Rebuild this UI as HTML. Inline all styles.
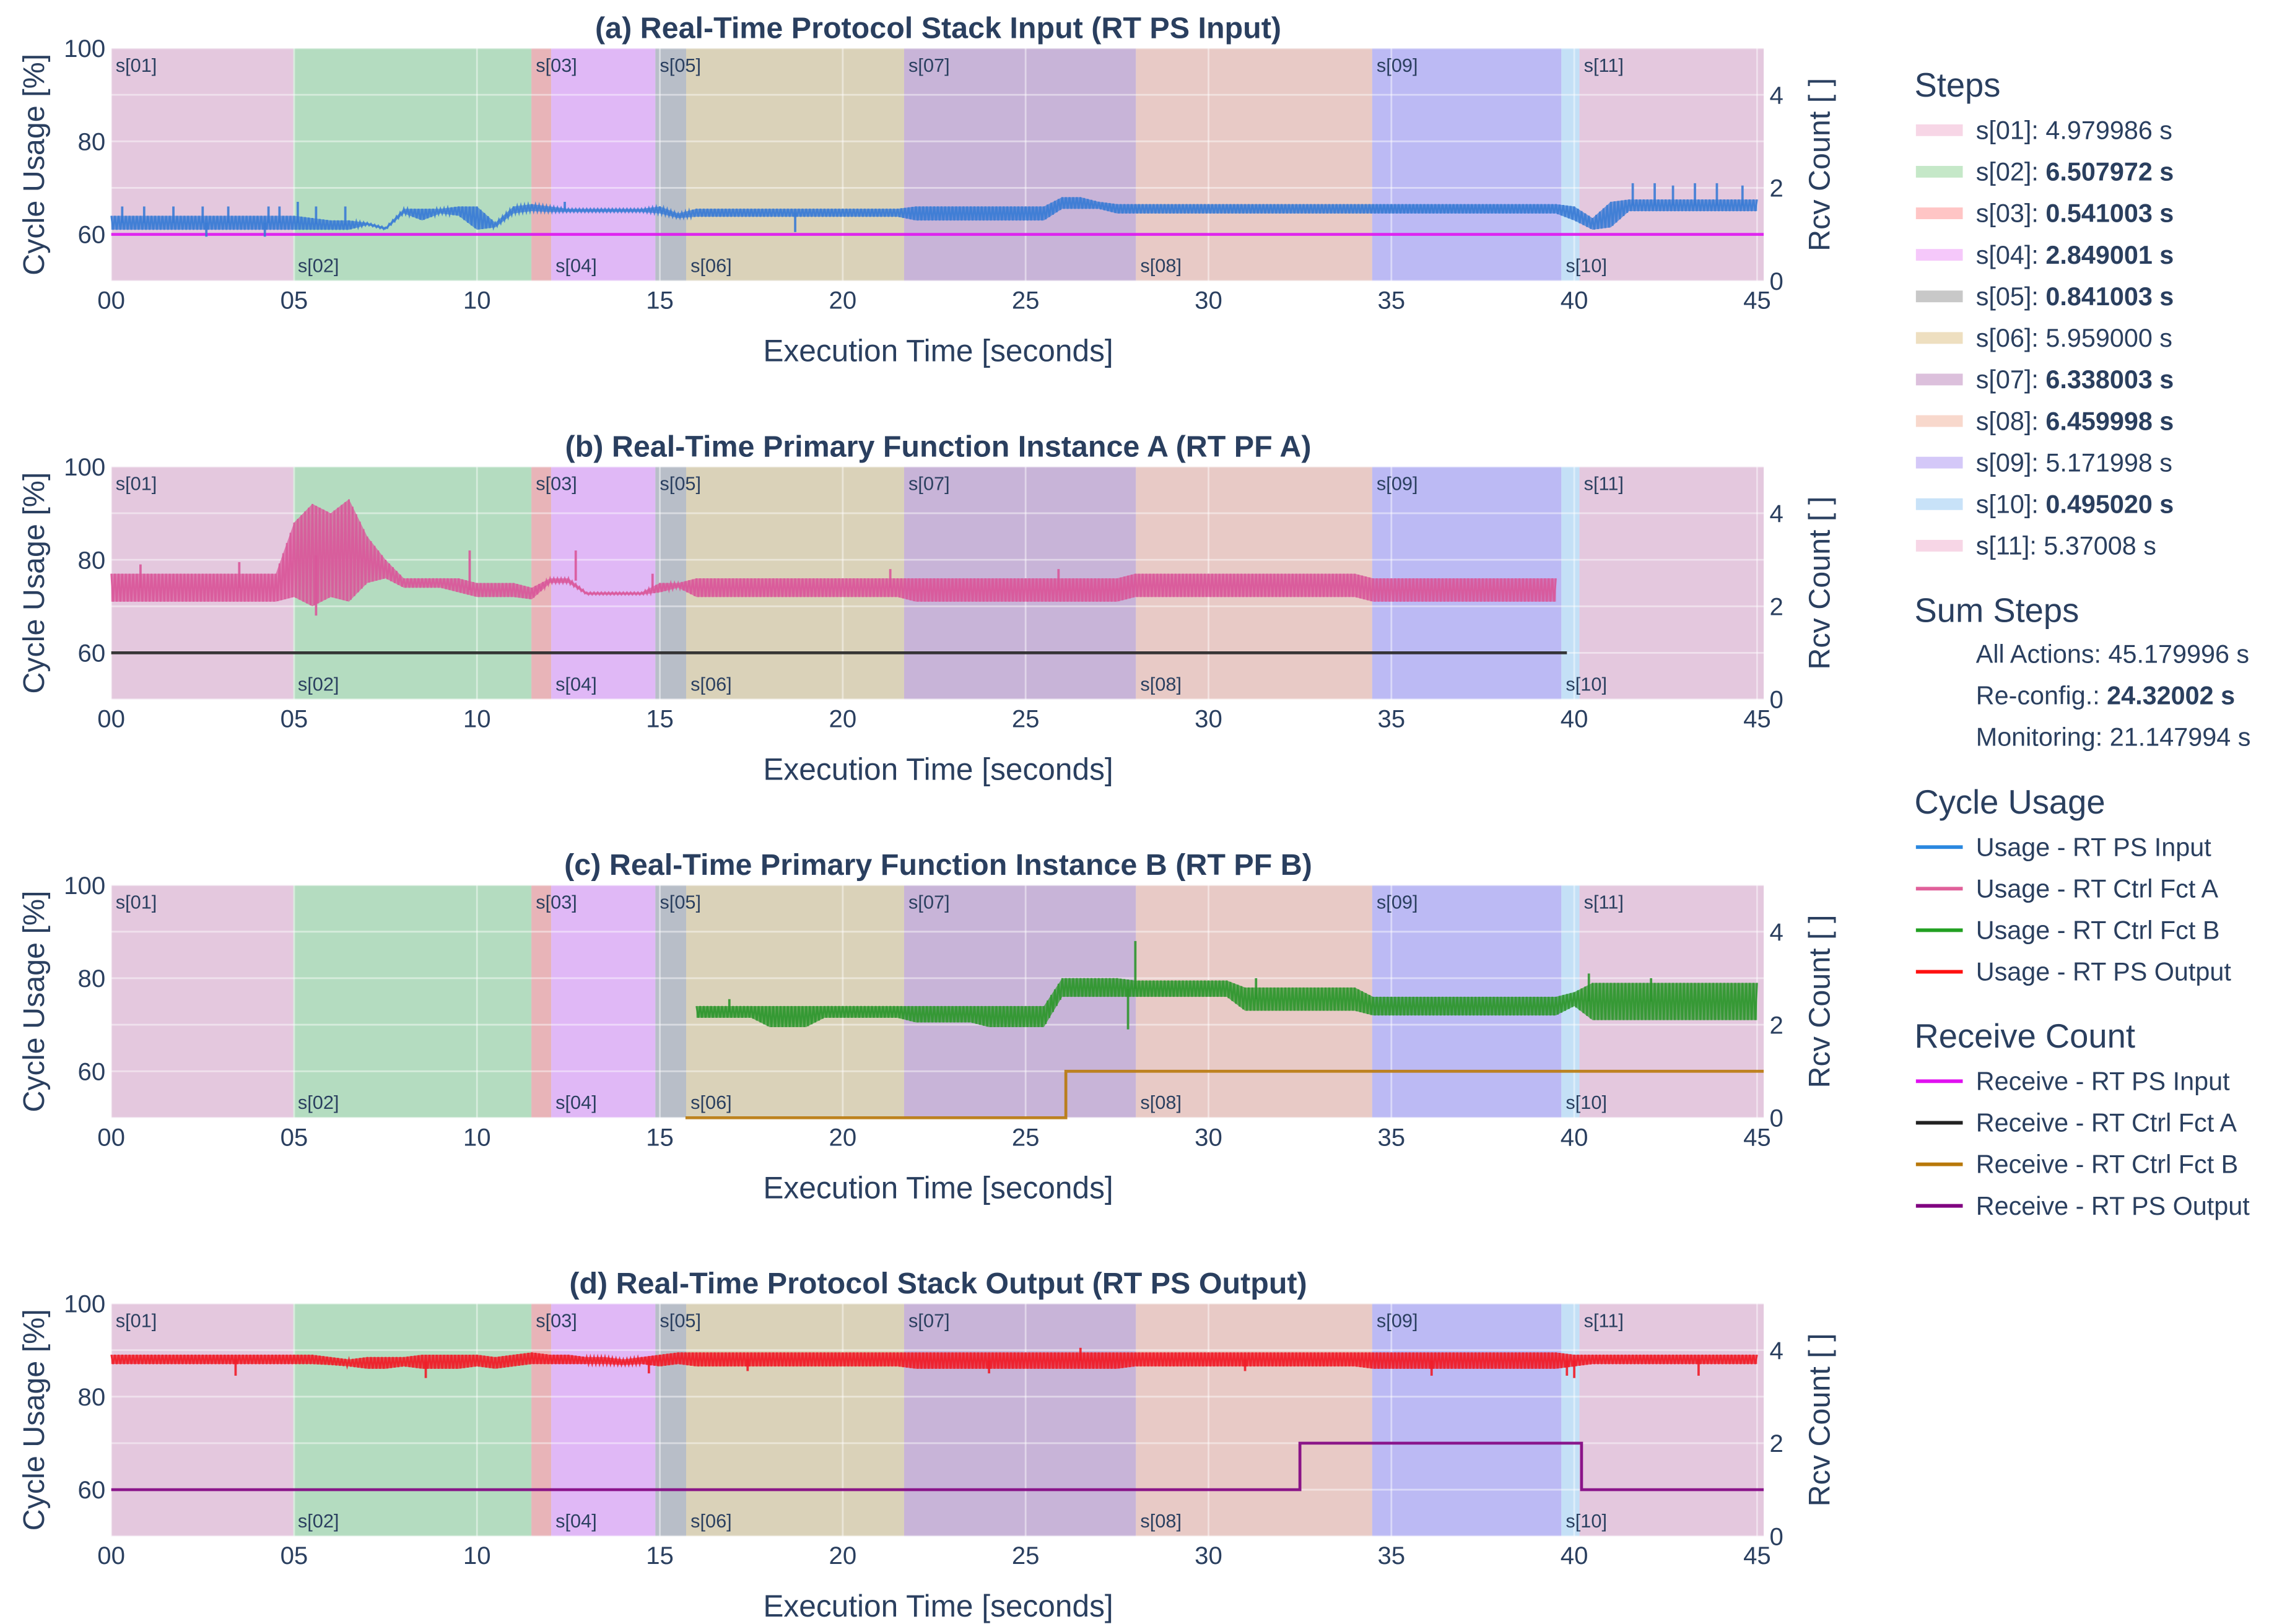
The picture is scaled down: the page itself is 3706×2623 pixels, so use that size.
<!DOCTYPE html>
<html><head><meta charset="utf-8"><style>
html,body{margin:0;padding:0;background:#fff;}
svg{display:block;font-family:"Liberation Sans",Arial,sans-serif;}
</style></head><body>
<svg id="chart" xmlns="http://www.w3.org/2000/svg" width="3706" height="2623" viewBox="0 0 1568 1110" preserveAspectRatio="none">
<g id="plots"></g>
<g id="legend" fill="#2a3f5f" font-size="17.5"></g>
</svg>
<script>
// ---- data ----
const stepNames = ["s[01]","s[02]","s[03]","s[04]","s[05]","s[06]","s[07]","s[08]","s[09]","s[10]","s[11]"];
const stepDurations = [4.979986,6.507972,0.541003,2.849001,0.841003,5.959000,6.338003,6.459998,5.171998,0.495020,5.37008];
const stepDurationLabels = ["4.979986","6.507972","0.541003","2.849001","0.841003","5.959000","6.338003","6.459998","5.171998","0.495020","5.37008"];
const stepBold = [false,true,true,true,true,false,true,true,false,true,false];
const xTickValues = [0,5,10,15,20,25,30,35,40,45];
const xTickLabels = ["00","05","10","15","20","25","30","35","40","45"];
const yTickValues = [60,80,100];
const rcvTickValues = [0,2,4];
const panelTitles = ["(a) Real-Time Protocol Stack Input (RT PS Input)","(b) Real-Time Primary Function Instance A (RT PF A)","(c) Real-Time Primary Function Instance B (RT PF B)","(d) Real-Time Protocol Stack Output (RT PS Output)"];
const sampleStep = 0.5; // sample spacing in seconds for envelope arrays
// Panel (a) usage envelope (index i => t = 0.5 i)
const usageAHi = [64,64,64,64,64,64,64,64,64,64,64,63.5,63,63,62.5,61.5,65.5,65.5,65.5,66,66,62.5,66,66.5,66,65.5,65.5,65.5,65.5,65.5,66,64.5,65.5,65.5,65.5,65.5,65.5,65.5,65.5,65.5,65.5,65.5,65.5,65.5,66,66,66,66,66,66,66,66,68,68,67,66.5,66.5,66.5,66.5,66.5,66.5,66.5,66.5,66.5,66.5,66.5,66.5,66.5,66.5,66.5,66.5,66.5,66.5,66.5,66.5,66.5,66.5,66.5,66.5,66.5,66,63.5,67,67.5,67.5,67.5,67.5,67.5,67.5,67.5,67.5];
const usageALo = [61,61,61,61,61,61,61,61,61,61,61,61,61,61,62,61,64.5,63,64.5,64,61,61.5,64.5,65,64.8,64.8,64.8,64.8,64.8,64.8,64.5,63.5,63.8,63.8,63.8,63.8,63.8,63.8,63.8,63.8,63.8,63.8,63.8,63.8,63,63,63,63,63,63,63,63,65.5,65.5,65.5,64.5,64.5,64.5,64.5,64.5,64.5,64.5,64.5,64.5,64.5,64.5,64.5,64.5,64.5,64.5,64.5,64.5,64.5,64.5,64.5,64.5,64.5,64.5,64.5,64.5,63,61,61.5,65,65,65,65,65,65,65,65];
const spikesATimes = [0.3,0.9,1.7,2.5,2.6,3.2,4.2,4.3,4.6,5.1,5.6,6.4,12.4,18.7,41.6,42.2,42.7,43.3,43.9,44.6];
const spikesAValues = [66,66,66,66,59.5,66,59.5,66,66,67,66,66,67,60.5,71,71,70.5,71,71,70.5];
// Panel (b)
const usageBHi = [77,77,77,77,77,77,77,77,77,77,88,92,90,93,85,80,76,76,76,76,75,75,75,74,76,76,73,73,73,73,75,75,76,76,76,76,76,76,76,76,76,76,76,76,76,76,76,76,76,76,76,76,76,76,76,76,77,77,77,77,77,77,77,77,77,77,77,77,77,76,76,76,76,76,76,76,76,76,76,76,null,null,null,null,null,null,null,null,null,null,null];
const usageBLo = [71,71,71,71,71,71,71,71,71,71,72,70,72,71,75,76,74,74,74,73,72,72,72,71.5,75,75,72.5,72.5,72.5,72.5,73,74,72,72,72,72,72,72,72,72,72,72,72,72,71,71,71,71,71,71,71,71,71,71,71,71,72,72,72,72,72,72,72,72,72,72,72,72,72,71,71,71,71,71,71,71,71,71,71,71,null,null,null,null,null,null,null,null,null,null,null];
const spikesBTimes = [0.8,3.5,5.6,9.8,12.7,14.8,21.3,25.9];
const spikesBValues = [79,79.5,68,82,82,77,78,78];
// Panel (c)
const usageCHi = [null,null,null,null,null,null,null,null,null,null,null,null,null,null,null,null,null,null,null,null,null,null,null,null,null,null,null,null,null,null,null,null,74,74,74,74,74,74,74,74,74,74,74,74,74,74,74,74,74,74,74,74,80,80,80,80,79.5,79.5,79.5,79.5,79.5,79.5,78,78,78,78,78,78,78,76,76,76,76,76,76,76,76,76,76,76,77,79,79,79,79,79,79,79,79,79,79];
const usageCLo = [null,null,null,null,null,null,null,null,null,null,null,null,null,null,null,null,null,null,null,null,null,null,null,null,null,null,null,null,null,null,null,null,71.5,71.5,71.5,71.5,69.5,69.5,69.5,71.5,71.5,71.5,71.5,71.5,70.5,70.5,70.5,70.5,69.5,69.5,69.5,69.5,76,76,76,76,76,76,76,76,76,76,73,73,73,73,73,73,73,72,72,72,72,72,72,72,72,72,72,72,74,71,71,71,71,71,71,71,71,71,71];
const spikesCTimes = [16.9,27.8,28.0,31.3,40.4,42.1];
const spikesCValues = [75.5,69,88,80,81,80];
// Panel (d)
const usageDHi = [89,89,89,89,89,89,89,89,89,89,89,89,88.5,88,88.5,88.5,88.5,89,89,89,89,88.5,89,89.5,89,89,88.5,88.5,88,88.5,89,89.5,89.5,89.5,89.5,89.5,89.5,89.5,89.5,89.5,89.5,89.5,89.5,89.5,89.5,89.5,89.5,89.5,89.5,89.5,89.5,89.5,89.5,89.5,89.5,89.5,89.5,89.5,89.5,89.5,89.5,89.5,89.5,89.5,89.5,89.5,89.5,89.5,89.5,89.5,89.5,89.5,89.5,89.5,89.5,89.5,89.5,89.5,89.5,89.5,89,89,89,89,89,89,89,89,89,89,89];
const usageDLo = [87,87,87,87,87,87,87,87,87,87,87,87,86.8,86.5,86,86,86.5,86,86,86,86.5,86,86.5,87,87,87,87,87,86.8,87,86.5,87,86.5,86.5,86.5,86.5,86.5,86.5,86.5,86.5,86.5,86.5,86.5,86.5,86,86,86,86,86,86,86,86,86,86,86,86,86.5,86.5,86.5,86.5,86.5,86.5,86.5,86.5,86.5,86.5,86.5,86.5,86.5,86,86,86,86,86,86,86,86,86,86,86,86.5,87,87,87,87,87,87,87,87,87,87];
const spikesDTimes = [3.4,8.6,14.7,17.4,24.0,26.5,31.0,36.1,39.8,40.0,43.4];
const spikesDValues = [84.5,84,85,85.5,85,90.5,85.5,84.5,84.5,84,84.5];
// Receive counts (step functions: change times, values)
const rcvInTimes = [0,45.18];   const rcvInValues = [1,1];
const rcvATimes = [0,39.8];     const rcvAValues = [1,1];
const rcvBTimes = [15.7,26.1,45.18]; const rcvBValues = [0,1,1];
const rcvOutTimes = [0,32.5,40.2,45.18]; const rcvOutValues = [1,2,1,1];

// ---- styling (not data) ----
const bandFill = ["#e4c8de","#b4dcc0","#e8b4b8","#e0b8f6","#b8bec8","#dad2b9","#c8b4d8","#e8cac6","#bcbaf4","#c4e0f6","#e4c8de"];
const swatch = ["#f7d6e6","#c5e8c8","#ffc5c5","#f5c8fa","#c8c8c8","#eedfc0","#dcc0dc","#f8d8cc","#d4c8f8","#c8e2f8","#f7d6e6"];
const NS = "http://www.w3.org/2000/svg";
const TXT = "#2a3f5f";
const X0 = 76, X1 = 1205, XMAX = 45.18, PH = 159;
const panelTops = [33,319,605,891];
const ZIG = 0.05; // zigzag sub-step (rendering texture)
function xs(t){ return X0 + (t/XMAX)*(X1-X0); }
function mk(tag, attrs, parent){ const e=document.createElementNS(NS,tag); for(const k in attrs) e.setAttribute(k,attrs[k]); parent.appendChild(e); return e; }

const panels = [
 {hi:usageAHi, lo:usageALo, st:spikesATimes, sv:spikesAValues, color:"#3a7bd5", rt:rcvInTimes, rv:rcvInValues, rc:"#dd11ee", name:"rt-ps-input"},
 {hi:usageBHi, lo:usageBLo, st:spikesBTimes, sv:spikesBValues, color:"#d9579a", rt:rcvATimes, rv:rcvAValues, rc:"#222222", name:"rt-pf-a"},
 {hi:usageCHi, lo:usageCLo, st:spikesCTimes, sv:spikesCValues, color:"#2e962e", rt:rcvBTimes, rv:rcvBValues, rc:"#b8780a", name:"rt-pf-b"},
 {hi:usageDHi, lo:usageDLo, st:spikesDTimes, sv:spikesDValues, color:"#f01c28", rt:rcvOutTimes, rv:rcvOutValues, rc:"#800080", name:"rt-ps-output"}
];
const plots = document.getElementById('plots');
const starts = []; let acc = 0;
stepDurations.forEach(d=>{ starts.push(acc); acc += d; });

panels.forEach((p, pi)=>{
  const top = panelTops[pi];
  const yl = v => top + (100-v)/50*PH;
  const yr = c => top + PH - c/5*PH;
  const g = mk('g',{},plots);
  
  
  mk('rect',{x:X0,y:top,width:X1-X0,height:PH,fill:"#e5ecf6"},g);
  stepNames.forEach((n,i)=>{
    const a = xs(starts[i]), b = xs(Math.min(starts[i]+stepDurations[i], XMAX));
    const r = mk('rect',{x:a,y:top,width:Math.max(0,b-a),height:PH,fill:bandFill[i]},g);
    
    
  });
  xTickValues.forEach(v=>{ mk('line',{x1:xs(v),x2:xs(v),y1:top,y2:top+PH,stroke:"#ffffff","stroke-opacity":0.45,"stroke-width":1.2},g); });
  yTickValues.forEach(v=>{ mk('line',{x1:X0,x2:X1,y1:yl(v),y2:yl(v),stroke:"#ffffff","stroke-opacity":0.45,"stroke-width":1.2},g); });
  rcvTickValues.forEach(v=>{ mk('line',{x1:X0,x2:X1,y1:yr(v),y2:yr(v),stroke:"#ffffff","stroke-opacity":0.45,"stroke-width":1.2},g); });
  stepNames.forEach((n,i)=>{
    const odd = i%2===0;
    const t = mk('text',{x:xs(starts[i])+3,y:odd?top+16:top+153,"font-size":13,fill:TXT},g);
    t.textContent = n;
    
    
  });
  let d = "";
  for(let i=0;i<p.rt.length;i++){
    const x = xs(p.rt[i]), y = yr(p.rv[i]);
    if(i===0) d += "M"+x+","+y; else d += "H"+x+"V"+y;
  }
  const rl = mk('path',{d:d,fill:"none",stroke:p.rc,"stroke-width":2,"stroke-opacity":0.9},g);
  
  
  let seg = [];
  const segs = [];
  p.hi.forEach((h,i)=>{ if(h===null){ if(seg.length) segs.push(seg); seg=[]; } else seg.push(i); });
  if(seg.length) segs.push(seg);
  segs.forEach(s=>{
    let pts = s.map(i=>xs(i*sampleStep)+","+yl(p.hi[i]));
    pts = pts.concat(s.slice().reverse().map(i=>xs(i*sampleStep)+","+yl(p.lo[i])));
    const poly = mk('polygon',{points:pts.join(" "),fill:p.color,"fill-opacity":0.7,stroke:"none"},g);
    
    
    const t0 = s[0]*sampleStep, t1 = s[s.length-1]*sampleStep;
    const zp = [];
    let k = 0;
    for(let t=t0; t<=t1+1e-9; t+=ZIG, k++){
      const f = (t - t0)/sampleStep, i0 = s[0]+Math.floor(f), i1 = Math.min(s[s.length-1], i0+1);
      const w = f - Math.floor(f);
      const h = p.hi[i0]*(1-w) + p.hi[i1]*w, l = p.lo[i0]*(1-w) + p.lo[i1]*w;
      zp.push(xs(t)+","+yl(k%2===0 ? h : l));
    }
    const zl = mk('polyline',{points:zp.join(" "),fill:"none",stroke:p.color,"stroke-width":1.2,"stroke-opacity":0.85},g);
    
    
  });
  p.st.forEach((t,k)=>{
    const i = Math.min(p.hi.length-1, Math.round(t/sampleStep));
    const hv = p.hi[i]===null ? p.sv[k] : (p.hi[i]+p.lo[i])/2;
    const sp = mk('line',{x1:xs(t),x2:xs(t),y1:yl(hv),y2:yl(p.sv[k]),stroke:p.color,"stroke-width":1.6,"stroke-opacity":0.9},g);
    
    
  });
  xTickValues.forEach((v,i)=>{
    const t = mk('text',{x:xs(v),y:top+PH+19,"text-anchor":"middle","font-size":17,fill:TXT},g);
    t.textContent = xTickLabels[i];
    
    
  });
  yTickValues.forEach(v=>{
    const t = mk('text',{x:72,y:yl(v)+6,"text-anchor":"end","font-size":17,fill:TXT},g);
    t.textContent = String(v);
    
    
  });
  rcvTickValues.forEach(v=>{
    const t = mk('text',{x:1209,y:yr(v)+6,"font-size":17,fill:TXT},g);
    t.textContent = String(v);
    
    
  });
  const xt = mk('text',{x:641,y:top+PH+55,"text-anchor":"middle","font-size":21,fill:TXT},g);
  xt.textContent = "Execution Time [seconds]";
  
  
  const yt = mk('text',{x:0,y:0,"text-anchor":"middle","font-size":20.5,fill:TXT,transform:"translate(30,"+(top+PH/2)+") rotate(-90)"},g);
  yt.textContent = "Cycle Usage [%]";
  
  
  const rt = mk('text',{x:0,y:0,"text-anchor":"middle","font-size":20.5,fill:TXT,transform:"translate(1250,"+(top+PH/2)+") rotate(-90)"},g);
  rt.textContent = "Rcv Count [ ]";
  
  
  const tt = mk('text',{x:641,y:top-7,"text-anchor":"middle","font-size":20.5,"font-weight":"bold",fill:TXT},g);
  tt.textContent = panelTitles[pi];
  
  
});

// ---- legend ----
const lg = document.getElementById('legend');
function head(txt,y){ const t=mk('text',{x:1308,y:y,"font-size":23},lg); t.textContent=txt;
  
   }
head("Steps",66);
stepNames.forEach((n,i)=>{
  const y = 89 + i*28.4;
  const r = mk('rect',{x:1309,y:y-4,width:32,height:8,fill:swatch[i]},lg);
  
  
  const t = mk('text',{x:1350,y:y+6},lg);
  const a = document.createElementNS(NS,'tspan'); a.textContent = n+": "; t.appendChild(a);
  const b = document.createElementNS(NS,'tspan'); b.textContent = stepDurationLabels[i]+" s";
  if(stepBold[i]) b.setAttribute('font-weight','bold');
  t.appendChild(b);
  
  
});
head("Sum Steps",425);
[["All Actions: ","45.179996 s",false],["Re-config.: ","24.32002 s",true],["Monitoring: ","21.147994 s",false]].forEach((r,i)=>{
  const t = mk('text',{x:1350,y:453+i*28.4},lg);
  const a = document.createElementNS(NS,'tspan'); a.textContent=r[0]; t.appendChild(a);
  const b = document.createElementNS(NS,'tspan'); b.textContent=r[1]; if(r[2]) b.setAttribute('font-weight','bold'); t.appendChild(b);
  
  
});
head("Cycle Usage",556);
const usageNames = ["Usage - RT PS Input","Usage - RT Ctrl Fct A","Usage - RT Ctrl Fct B","Usage - RT PS Output"];
const usageColors = ["#2a88e0","#e0609a","#22a022","#ff1010"];
usageNames.forEach((n,i)=>{
  const y = 579 + i*28.4;
  mk('line',{x1:1309,x2:1341,y1:y,y2:y,stroke:usageColors[i],"stroke-width":2.5},lg);
  const t = mk('text',{x:1350,y:y+6},lg); t.textContent=n;
  
  
});
head("Receive Count",716);
const rcvNames = ["Receive - RT PS Input","Receive - RT Ctrl Fct A","Receive - RT Ctrl Fct B","Receive - RT PS Output"];
const rcvColors = ["#e010f0","#222222","#b8780a","#800080"];
rcvNames.forEach((n,i)=>{
  const y = 739 + i*28.4;
  mk('line',{x1:1309,x2:1341,y1:y,y2:y,stroke:rcvColors[i],"stroke-width":2.5},lg);
  const t = mk('text',{x:1350,y:y+6},lg); t.textContent=n;
  
  
});
</script>
</body></html>
